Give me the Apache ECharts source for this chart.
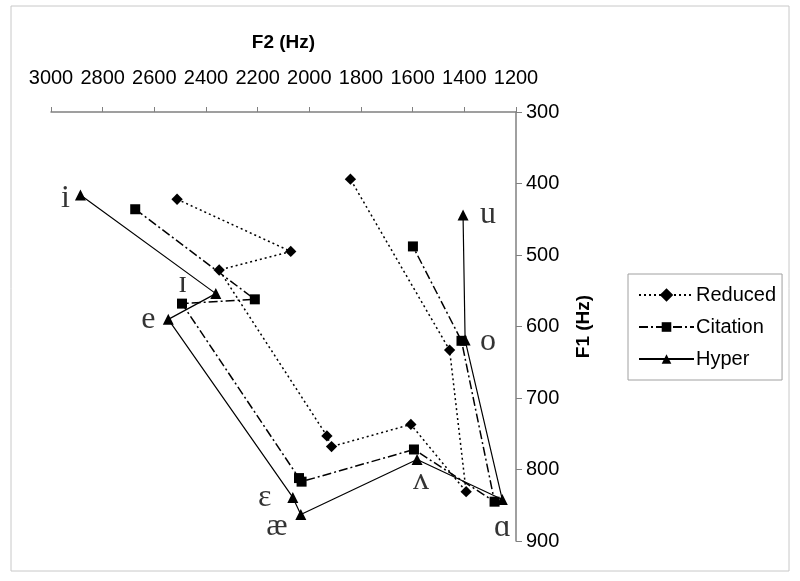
<!DOCTYPE html>
<html>
<head>
<meta charset="utf-8">
<script src="https://cdn.jsdelivr.net/npm/echarts@6/dist/echarts.min.js"></script>
<style>
  html, body { margin: 0; padding: 0; background: #fff; }
  #main { width: 800px; height: 581px; }
</style>
</head>
<body>
<div id="main"></div>
<script>
// vowel order along each line
const vowels = ["i", "ɪ", "e", "ɛ", "æ", "ʌ", "ɑ", "o", "u"];

// F2 / F1 in Hz
const reducedF2 = [2512, 2072, 2349, 1932, 1914, 1607, 1393, 1457, 1841];
const reducedF1 = [422, 495, 521, 753, 768, 737, 831, 633, 394];
const citationF2 = [2674, 2211, 2493, 2040, 2030, 1595, 1283, 1411, 1599];
const citationF1 = [436, 562, 568, 812, 817, 772, 845, 620, 488];
const hyperF2 = [2886, 2362, 2546, 2064, 2033, 1583, 1253, 1397, 1405];
const hyperF1 = [416, 554, 590, 839, 863, 786, 842, 619, 444];

const seriesNames = ["Reduced", "Citation", "Hyper"];

// where each vowel label sits relative to its Hyper point (px)
const labelOffsets = {
  "i": [-15, 4], "ɪ": [-33, -10], "e": [-20, 0], "ɛ": [-28, 0], "æ": [-24, 12],
  "ʌ": [4, 21], "ɑ": [0, 28], "o": [23, 2], "u": [25, 0]
};

function pairs(xs, ys) {
  return xs.map((x, i) => [x, ys[i]]);
}

const axisColor = "#808080";
const sans = "Arial, 'Liberation Sans', sans-serif";

const chart = echarts.init(document.getElementById("main"));
chart.setOption({
  backgroundColor: "#fff",
  animation: false,
  graphic: [{
    type: "rect",
    shape: { x: 11, y: 6, width: 778, height: 565 },
    style: { fill: "none", stroke: "#c8c8c8", lineWidth: 1 },
    silent: true
  }],
  grid: { left: 51, right: 284, top: 112, bottom: 40 },
  xAxis: {
    type: "value",
    position: "top",
    inverse: true,
    min: 1200,
    max: 3000,
    interval: 200,
    name: "F2 (Hz)",
    nameLocation: "middle",
    nameGap: 60,
    nameTextStyle: { fontFamily: sans, fontWeight: "bold", fontSize: 19, color: "#000" },
    axisLine: { lineStyle: { color: axisColor, width: 1.5 } },
    axisTick: { length: 5, lineStyle: { color: axisColor } },
    axisLabel: { fontFamily: sans, fontSize: 20, color: "#000", margin: 24, formatter: (v) => String(v) },
    splitLine: { show: false }
  },
  yAxis: {
    type: "value",
    position: "right",
    inverse: true,
    min: 300,
    max: 900,
    interval: 100,
    name: "F1 (Hz)",
    nameLocation: "middle",
    nameRotate: 90,
    nameGap: 58,
    nameTextStyle: { fontFamily: sans, fontWeight: "bold", fontSize: 19, color: "#000" },
    axisLine: { lineStyle: { color: axisColor, width: 1.5 } },
    axisTick: { length: 6, lineStyle: { color: axisColor } },
    axisLabel: { fontFamily: sans, fontSize: 20, color: "#000", margin: 10, formatter: (v) => String(v) },
    splitLine: { show: false }
  },
  legend: {
    data: seriesNames,
    orient: "vertical",
    left: 628,
    top: 274,
    width: 157,
    padding: [11, 6, 11, 10],
    itemWidth: 55,
    itemHeight: 12,
    itemGap: 12,
    borderColor: "#a0a0a0",
    borderWidth: 1,
    textStyle: { fontFamily: sans, fontSize: 20, color: "#000", padding: [0, 0, 0, -3] }
  },
  series: [
    {
      name: "Reduced",
      type: "line",
      data: pairs(reducedF2, reducedF1),
      symbol: "rect",
      symbolRotate: 45,
      symbolSize: 8,
      itemStyle: { color: "#000" },
      lineStyle: { color: "#000", width: 1.5, type: [2, 3] }
    },
    {
      name: "Citation",
      type: "line",
      data: pairs(citationF2, citationF1),
      symbol: "rect",
      symbolSize: 10,
      itemStyle: { color: "#000" },
      lineStyle: { color: "#000", width: 1.5, type: [9, 3, 2, 3] }
    },
    {
      name: "Hyper",
      type: "line",
      data: pairs(hyperF2, hyperF1),
      symbol: "triangle",
      symbolSize: 11,
      itemStyle: { color: "#000" },
      lineStyle: { color: "#000", width: 1.2 }
    },
    {
      name: "labels",
      type: "scatter",
      symbolSize: 0,
      silent: true,
      z: 5,
      data: vowels.map((v, i) => ({
        value: [hyperF2[i], hyperF1[i]],
        label: { offset: labelOffsets[v] }
      })),
      label: {
        show: true,
        position: "inside",
        formatter: (p) => vowels[p.dataIndex],
        fontFamily: "'Liberation Serif', 'DejaVu Serif', serif",
        fontSize: 32,
        color: "#000"
      }
    }
  ]
});
</script>
</body>
</html>
